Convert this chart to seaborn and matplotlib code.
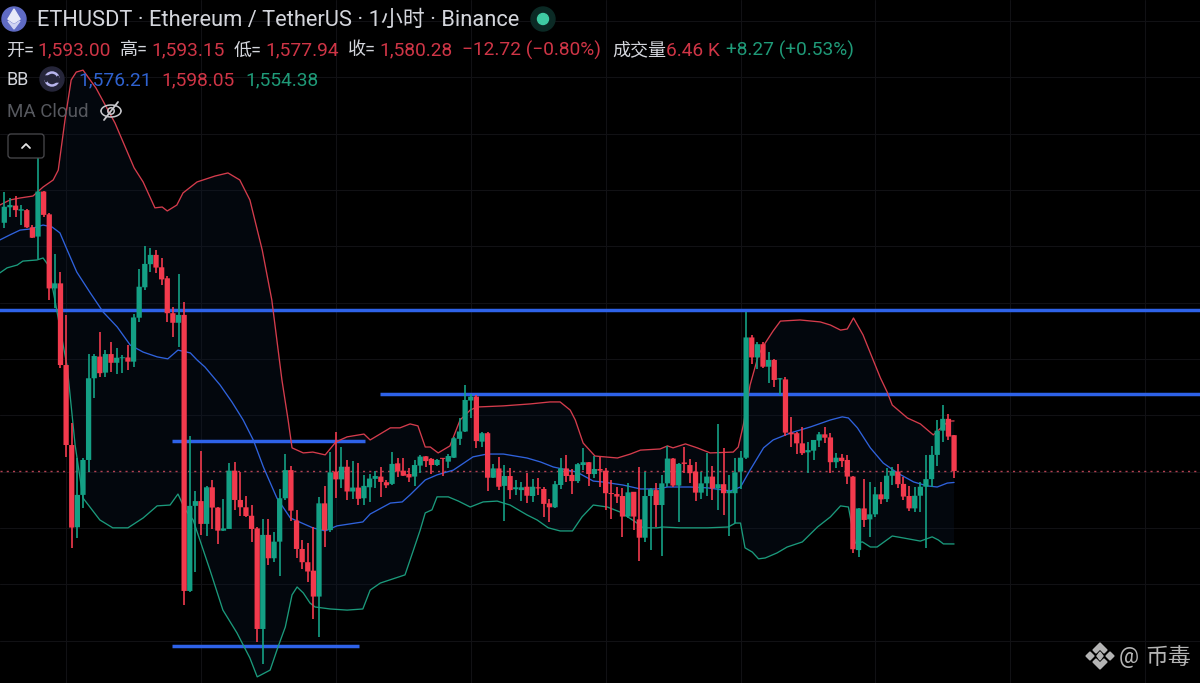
import numpy as np
import pandas as pd
import seaborn as sns
import matplotlib
matplotlib.use("Agg")
import matplotlib.pyplot as plt
from matplotlib.patches import Circle, FancyBboxPatch, Polygon

# ETHUSDT hourly candles
opens = [
    1668.4, 1673.9, 1674.5, 1672.7, 1672.9, 1666.8, 1663.5, 1679.5, 1671.4, 1645.1,
    1646.9, 1617.9, 1589.5, 1560.3, 1571.8, 1584.2, 1613.2, 1620.9, 1615.2, 1621.8,
    1618.7, 1620.3, 1620.6, 1619.1, 1634.7, 1645.5, 1653.7, 1657.0, 1652.6, 1648.7,
    1636.3, 1632.9, 1635.7, 1537.7, 1567.9, 1569.6, 1561.5, 1574.5, 1567.3, 1559.1,
    1559.7, 1580.4, 1570.0, 1567.4, 1564.4, 1559.9, 1524.2, 1557.6, 1549.3, 1555.2,
    1570.6, 1580.6, 1562.7, 1552.6, 1547.9, 1544.9, 1535.7, 1568.8, 1559.3, 1580.1,
    1577.3, 1581.8, 1573.0, 1574.4, 1570.6, 1574.5, 1577.5, 1578.3, 1576.3, 1575.7,
    1583.0, 1580.4, 1579.2, 1578.3, 1582.2, 1585.5, 1584.6, 1582.4, 1584.8, 1583.6,
    1585.0, 1591.7, 1594.3, 1605.3, 1606.7, 1590.7, 1593.7, 1577.9, 1581.2, 1575.0,
    1578.5, 1573.8, 1573.5, 1574.7, 1571.4, 1574.5, 1573.9, 1568.8, 1567.4, 1575.3,
    1581.2, 1578.9, 1576.7, 1582.4, 1583.4, 1579.2, 1581.0, 1580.4, 1572.4, 1572.1,
    1571.4, 1564.1, 1572.9, 1563.1, 1556.6, 1571.4, 1573.5, 1568.2, 1575.9, 1584.7,
    1575.1, 1583.3, 1582.4, 1580.1, 1572.6, 1575.9, 1578.3, 1574.1, 1575.6, 1572.4,
    1572.4, 1580.1, 1585.0, 1627.7, 1620.6, 1625.3, 1617.3, 1619.7, 1612.8, 1612.8,
    1593.9, 1593.7, 1590.1, 1586.9, 1587.5, 1591.1, 1593.3, 1592.2, 1583.4, 1585.0,
    1584.2, 1578.3, 1552.2, 1567.0, 1563.1, 1564.9, 1572.0, 1570.3, 1578.6, 1580.1,
    1575.7, 1571.4, 1567.0, 1571.5, 1574.7, 1577.4, 1586.0, 1594.6, 1598.8, 1593.00,
]
highs = [
    1679.5, 1677.1, 1677.9, 1674.7, 1673.2, 1667.6, 1693.5, 1679.8, 1672.0, 1657.3,
    1650.8, 1635.7, 1597.2, 1584.8, 1584.8, 1621.8, 1621.8, 1629.5, 1623.2, 1626.2,
    1623.8, 1621.5, 1625.0, 1636.0, 1651.9, 1660.2, 1659.3, 1658.7, 1655.8, 1649.5,
    1638.6, 1650.2, 1640.4, 1592.7, 1573.3, 1587.4, 1575.1, 1577.1, 1567.4, 1570.4,
    1583.0, 1583.6, 1580.1, 1571.4, 1568.2, 1560.5, 1563.1, 1563.1, 1558.8, 1573.8,
    1586.2, 1582.2, 1566.4, 1555.8, 1554.8, 1560.3, 1571.2, 1575.0, 1587.2, 1594.3,
    1588.7, 1584.2, 1583.8, 1583.0, 1578.9, 1579.1, 1580.4, 1581.6, 1577.1, 1586.9,
    1584.8, 1584.8, 1581.2, 1584.2, 1585.9, 1585.6, 1584.8, 1584.6, 1584.9, 1586.3,
    1592.5, 1599.0, 1610.8, 1607.6, 1607.3, 1594.3, 1594.3, 1582.8, 1585.1, 1582.4,
    1581.2, 1577.1, 1576.5, 1579.7, 1577.3, 1577.7, 1574.5, 1570.2, 1576.7, 1585.0,
    1586.0, 1580.9, 1583.0, 1588.3, 1583.6, 1585.6, 1585.4, 1581.2, 1577.1, 1574.7,
    1574.1, 1576.1, 1573.0, 1581.8, 1580.1, 1574.1, 1575.9, 1578.9, 1589.2, 1584.8,
    1583.0, 1588.9, 1584.4, 1583.6, 1580.1, 1586.8, 1582.2, 1596.9, 1588.3, 1578.9,
    1585.0, 1587.5, 1636.9, 1628.6, 1626.2, 1626.2, 1622.7, 1619.9, 1613.4, 1613.8,
    1599.3, 1594.3, 1595.8, 1590.7, 1591.4, 1594.3, 1596.0, 1593.9, 1586.6, 1586.3,
    1586.0, 1578.4, 1567.1, 1577.4, 1576.5, 1574.7, 1576.5, 1581.2, 1581.8, 1582.7,
    1578.3, 1575.0, 1574.7, 1576.5, 1586.0, 1589.3, 1598.4, 1603.6, 1600.5, 1593.15,
]
lows = [
    1666.4, 1670.6, 1670.6, 1667.6, 1666.4, 1662.9, 1655.4, 1670.6, 1641.0, 1638.0,
    1616.7, 1585.1, 1552.8, 1556.6, 1567.0, 1580.0, 1606.1, 1613.5, 1613.8, 1615.6,
    1614.7, 1615.0, 1616.1, 1617.1, 1633.3, 1644.5, 1651.1, 1650.7, 1646.3, 1633.3,
    1627.7, 1624.4, 1532.7, 1537.5, 1544.3, 1557.6, 1557.3, 1559.6, 1554.4, 1559.0,
    1559.6, 1566.4, 1564.3, 1563.8, 1555.2, 1519.7, 1511.8, 1546.9, 1548.1, 1543.1,
    1570.0, 1562.7, 1549.3, 1545.5, 1540.8, 1527.6, 1521.2, 1553.4, 1558.8, 1570.6,
    1574.1, 1570.0, 1570.2, 1568.2, 1568.2, 1569.4, 1574.1, 1571.2, 1574.1, 1575.3,
    1578.3, 1578.5, 1576.5, 1575.0, 1579.7, 1581.8, 1579.1, 1582.1, 1578.6, 1581.2,
    1584.8, 1589.5, 1594.0, 1599.0, 1588.6, 1588.9, 1573.3, 1577.7, 1573.5, 1562.7,
    1570.2, 1571.8, 1569.8, 1568.8, 1569.4, 1571.8, 1564.1, 1562.3, 1567.3, 1573.8,
    1576.5, 1572.1, 1576.1, 1580.6, 1575.0, 1577.7, 1574.7, 1566.4, 1563.3, 1568.8,
    1556.7, 1563.5, 1559.3, 1548.3, 1555.2, 1552.2, 1560.3, 1550.1, 1574.7, 1574.7,
    1562.3, 1579.5, 1575.9, 1569.6, 1570.2, 1571.4, 1570.0, 1566.4, 1564.7, 1557.2,
    1561.7, 1573.8, 1584.5, 1618.3, 1616.4, 1616.7, 1611.4, 1610.0, 1607.3, 1592.7,
    1588.9, 1586.3, 1586.0, 1579.7, 1584.2, 1588.9, 1590.1, 1579.5, 1581.2, 1581.8,
    1575.7, 1551.1, 1549.9, 1560.5, 1557.0, 1564.1, 1568.6, 1569.4, 1575.3, 1574.1,
    1570.0, 1566.2, 1565.9, 1565.9, 1552.8, 1574.5, 1582.1, 1590.7, 1591.3, 1577.94,
]
closes = [
    1674.1, 1674.7, 1672.9, 1673.2, 1666.8, 1663.1, 1679.5, 1671.2, 1645.1, 1646.9,
    1617.9, 1589.5, 1560.2, 1571.8, 1584.2, 1613.2, 1621.1, 1615.0, 1621.8, 1618.7,
    1620.5, 1620.6, 1619.1, 1634.8, 1645.7, 1653.8, 1657.0, 1652.5, 1648.3, 1636.3,
    1632.9, 1635.7, 1537.7, 1567.9, 1569.6, 1561.5, 1574.5, 1567.3, 1559.1, 1559.9,
    1580.4, 1570.0, 1567.4, 1564.3, 1559.7, 1524.2, 1557.6, 1549.3, 1555.2, 1570.6,
    1580.6, 1566.2, 1552.6, 1547.9, 1544.6, 1535.7, 1568.8, 1559.3, 1579.8, 1577.3,
    1581.8, 1573.0, 1574.4, 1570.4, 1575.0, 1577.6, 1578.5, 1576.4, 1575.2, 1582.8,
    1580.1, 1578.6, 1578.0, 1582.4, 1585.4, 1583.8, 1582.4, 1584.2, 1584.6, 1585.6,
    1591.9, 1594.3, 1605.5, 1606.7, 1590.9, 1593.7, 1577.9, 1581.2, 1574.7, 1578.5,
    1573.5, 1574.5, 1574.5, 1571.5, 1574.7, 1574.1, 1568.6, 1567.4, 1575.6, 1581.2,
    1578.5, 1576.7, 1582.7, 1583.4, 1579.2, 1581.0, 1580.4, 1572.4, 1572.1, 1571.2,
    1564.1, 1572.7, 1564.1, 1556.6, 1571.4, 1573.8, 1568.2, 1575.9, 1584.7, 1575.1,
    1582.8, 1582.8, 1579.5, 1572.6, 1575.9, 1578.3, 1574.1, 1575.6, 1572.4, 1573.2,
    1579.8, 1585.0, 1627.7, 1620.6, 1625.3, 1617.3, 1619.7, 1612.6, 1613.2, 1593.9,
    1593.3, 1590.1, 1586.6, 1587.7, 1591.3, 1593.3, 1592.1, 1583.4, 1585.0, 1583.8,
    1578.3, 1552.5, 1567.0, 1562.9, 1564.9, 1572.0, 1570.2, 1578.6, 1580.3, 1575.6,
    1571.2, 1567.0, 1571.5, 1574.7, 1577.4, 1586.0, 1594.6, 1598.8, 1592.5, 1580.28,
]

# Bollinger Band traces, each given as (bar position, price) pairs
upper_bar = [
    -0.8, 1.0, 2.8, 5.1, 6.9, 8.7, 9.6, 10.8, 11.9, 12.8, 14.0, 16.3, 19.7, 23.1, 24.7,
    26.8, 28.1, 29.0, 30.7, 31.8, 34.3, 37.5, 39.8, 41.9, 43.7, 45.9, 47.6, 49.4, 50.5,
    51.2, 53.2, 54.9, 57.1, 59.0, 61.0, 64.0, 65.1, 68.7, 70.4, 72.2, 73.6, 74.9, 75.8,
    77.2, 79.3, 81.1, 82.9, 84.1, 88.8, 93.6, 97.1, 98.9, 100.7, 101.6, 103.0, 105.1,
    109.1, 111.4, 113.2, 116.7, 118.0, 119.0, 121.2, 123.3, 125.6, 129.7, 130.6, 131.5,
    132.7, 134.2, 135.4, 136.8, 138.1, 141.6, 145.2, 147.0, 148.8, 150.0, 151.1, 152.8,
    154.6, 155.9, 157.1, 158.0, 160.7, 163.0, 165.3, 168.0, 169.0,
]
upper_price = [
    1674.7, 1676.5, 1677.2, 1677.9, 1681.1, 1683.6, 1687.1, 1704.9, 1719.1, 1721.9, 1722.6,
    1716.3, 1703.8, 1687.9, 1682.9, 1673.7, 1674.0, 1672.6, 1674.7, 1679.0, 1682.9, 1685.0,
    1686.1, 1683.6, 1676.5, 1658.7, 1641.0, 1612.6, 1598.4, 1588.5, 1586.7, 1587.0, 1586.0,
    1590.6, 1592.4, 1593.4, 1591.3, 1595.6, 1595.6, 1597.0, 1596.3, 1588.8, 1588.8, 1586.7,
    1589.2, 1598.4, 1601.9, 1603.0, 1603.4, 1604.1, 1604.8, 1604.8, 1601.9, 1598.4, 1590.2,
    1585.6, 1584.9, 1586.3, 1587.7, 1588.1, 1589.2, 1588.5, 1589.9, 1588.5, 1586.7, 1587.0,
    1588.8, 1596.6, 1610.8, 1621.5, 1625.7, 1630.0, 1633.5, 1633.9, 1633.2, 1632.1, 1630.3,
    1630.7, 1634.6, 1628.6, 1619.7, 1613.3, 1608.3, 1603.7, 1599.1, 1597.0, 1593.1, 1598.0,
    1598.05,
]
middle_bar = [
    -0.8, 1.0, 2.8, 4.6, 6.9, 8.5, 9.9, 11.2, 12.9, 15.3, 17.6, 20.1, 22.4, 24.7, 27.2,
    29.1, 30.9, 33.1, 34.3, 35.7, 38.4, 40.5, 42.5, 44.3, 46.1, 48.5, 50.9, 54.9, 57.1,
    59.2, 63.8, 65.1, 68.7, 70.8, 72.2, 74.9, 77.0, 79.9, 83.4, 85.9, 88.8, 93.0, 95.4,
    97.7, 101.9, 104.8, 106.4, 110.1, 113.2, 116.2, 118.0, 122.1, 125.1, 129.2, 131.0,
    132.7, 135.1, 136.8, 139.9, 143.4, 147.0, 149.1, 150.2, 151.8, 154.1, 156.4, 158.9,
    161.8, 164.2, 166.0, 167.8, 169.0,
]
middle_price = [
    1662.3, 1664.1, 1665.8, 1666.2, 1667.6, 1666.9, 1664.8, 1658.7, 1650.9, 1643.5, 1636.7,
    1631.4, 1625.0, 1622.5, 1620.8, 1620.1, 1623.2, 1622.2, 1619.7, 1617.2, 1610.8, 1604.8,
    1598.4, 1591.3, 1581.7, 1570.7, 1563.6, 1560.1, 1559.0, 1560.8, 1562.2, 1565.0, 1568.9,
    1569.3, 1571.8, 1577.1, 1578.9, 1580.6, 1585.3, 1586.3, 1586.3, 1584.9, 1583.5, 1581.7,
    1579.9, 1576.7, 1576.4, 1575.3, 1573.9, 1573.9, 1574.6, 1574.6, 1574.3, 1573.2, 1574.6,
    1580.6, 1588.5, 1591.3, 1593.8, 1595.9, 1598.4, 1599.5, 1599.1, 1595.6, 1588.5, 1583.1,
    1579.6, 1576.4, 1575.0, 1574.6, 1576.0, 1576.21,
]
lower_bar = [
    -0.8, 0.5, 2.3, 3.3, 5.8, 6.9, 7.8, 9.0, 10.3, 11.2, 12.6, 14.0, 17.0, 19.3, 22.0,
    24.7, 27.2, 29.5, 30.9, 32.2, 33.6, 34.8, 36.6, 38.9, 41.4, 43.7, 45.0, 47.3, 48.7,
    50.0, 51.2, 52.1, 53.2, 54.4, 55.3, 58.0, 61.0, 63.8, 65.1, 66.9, 71.3, 72.8, 74.0,
    74.9, 76.1, 77.0, 79.0, 80.8, 82.9, 85.2, 87.7, 90.0, 93.0, 94.8, 96.8, 98.9, 101.1,
    102.8, 104.8, 107.3, 109.6, 112.3, 113.7, 116.2, 117.1, 120.3, 125.1, 128.8, 130.1,
    131.0, 131.8, 133.1, 134.2, 135.4, 137.5, 139.3, 142.0, 144.7, 147.0, 148.8, 150.2,
    151.4, 152.7, 154.1, 155.3, 158.0, 160.0, 163.0, 165.1, 166.2, 167.1, 169.0,
]
lower_price = [
    1650.6, 1652.4, 1653.4, 1654.8, 1655.2, 1655.9, 1653.4, 1641.0, 1626.8, 1617.2, 1589.5,
    1570.7, 1562.9, 1560.1, 1560.1, 1563.6, 1567.9, 1568.2, 1572.1, 1566.5, 1562.9, 1555.8,
    1545.1, 1530.9, 1522.8, 1513.9, 1507.2, 1509.6, 1517.8, 1524.9, 1536.3, 1539.1, 1537.0,
    1533.4, 1532.0, 1531.3, 1530.9, 1531.3, 1538.0, 1540.5, 1543.4, 1552.2, 1559.3, 1565.4,
    1566.5, 1571.1, 1571.1, 1569.6, 1567.5, 1569.3, 1569.6, 1568.2, 1564.7, 1562.9, 1560.1,
    1559.0, 1559.0, 1564.0, 1568.2, 1567.5, 1565.7, 1562.2, 1560.1, 1560.1, 1560.4, 1560.1,
    1560.1, 1560.4, 1561.8, 1561.8, 1553.0, 1551.5, 1549.1, 1549.4, 1551.2, 1553.3, 1555.1,
    1560.4, 1564.0, 1567.9, 1567.5, 1554.7, 1555.1, 1553.3, 1553.3, 1557.2, 1556.5, 1555.4,
    1556.9, 1555.8, 1554.4, 1554.38,
]

# Support and resistance levels: price, first bar, last bar
level_price = [1637.3, 1607.6, 1590.9, 1518.3]
level_start = [-1.0, 66.9, 29.9, 29.9]
level_end = [213.0, 213.0, 64.2, 63.1]

last_close = closes[-1]
price_ticks = list(range(1520, 1741, 20))
day_bars = [11, 35, 59, 83, 107, 131, 155, 179, 203]

COL_UP = "#14a085"
COL_DOWN = "#f23a4d"
TXT = "#d4d6dc"
TXT_RED = "#cf3546"
TXT_GREEN = "#1f9a78"
TXT_BLUE = "#2f62d0"

sns.set_theme(style="dark", rc={"figure.facecolor": "#000000", "axes.facecolor": "#000000"})
plt.rcParams["font.family"] = ["Roboto", "Noto Sans CJK SC", "DejaVu Sans"]

candles = pd.DataFrame({"open": opens, "high": highs, "low": lows, "close": closes})
candles["bar"] = np.arange(len(candles))
candles["color"] = np.where(candles["close"] >= candles["open"], COL_UP, COL_DOWN)

fig = plt.figure(figsize=(12, 6.83), dpi=100, facecolor="#000000")
ax = fig.add_axes([0, 0, 1, 1])
ax.set_xlim(-0.765, 212.76)
ax.set_ylim(1505.02, 1747.49)
ax.set_xticks(day_bars)
ax.set_yticks(price_ticks)
ax.tick_params(length=0, labelleft=False, labelbottom=False)
ax.grid(True, color="#111114", linewidth=0.8)
ax.set_axisbelow(True)
for spine in ax.spines.values():
    spine.set_visible(False)

# Shaded envelope between the outer bands
ax.fill(
    np.r_[upper_bar, lower_bar[::-1]],
    np.r_[upper_price, lower_price[::-1]],
    color="#0b1a2e", alpha=0.3, linewidth=0, zorder=1,
)

# Manually drawn levels and the last-price marker
ax.hlines(level_price, level_start, level_end, color="#2e62e8", linewidth=2.5, zorder=2)
ax.axhline(last_close, color="#c9485a", linewidth=1.0, linestyle=(0, (1.5, 3)), alpha=0.9, zorder=2)

for bar, price, colour in [
    (upper_bar, upper_price, "#d43c4c"),
    (middle_bar, middle_price, "#2f62dc"),
    (lower_bar, lower_price, "#1b9a7c"),
]:
    sns.lineplot(x=bar, y=price, ax=ax, color=colour, linewidth=0.95,
                 sort=False, estimator=None, errorbar=None, zorder=3)
ax.set_xlim(-0.765, 212.76)
ax.set_ylim(1505.02, 1747.49)
ax.set_xlabel("")
ax.set_ylabel("")

# Candles: wicks first, then bodies with a minimum visible height
ax.vlines(candles["bar"], candles["low"], candles["high"], colors=candles["color"],
          linewidth=1.2, zorder=4)
body_low = candles[["open", "close"]].min(axis=1)
body_height = (candles["open"] - candles["close"]).abs().clip(lower=0.35)
body_bars = ax.bar(candles["bar"], body_height, bottom=body_low, width=0.94,
                   color=candles["color"], linewidth=0, zorder=5)
for body in body_bars:
    body.set_snap(False)

# Legend overlay, laid out in screen pixels
hud = fig.add_axes([0, 0, 1, 1], facecolor="none")
hud.set_xlim(0, 1200)
hud.set_ylim(683, 0)
hud.axis("off")


def label(x, y, text, color=TXT, size=12.6, **kwargs):
    hud.text(x, y, text, color=color, fontsize=size, va="center", ha="left", **kwargs)


# Instrument badge and title row
hud.add_patch(Circle((14, 19), 12, color="#5f6bc4", zorder=6))
hud.add_patch(Polygon([(14, 9), (20, 19), (14, 23), (8, 19)], color="#e8eaf8", zorder=7))
hud.add_patch(Polygon([(14, 25), (20, 21), (14, 29), (8, 21)], color="#cfd3f2", zorder=7))
label(37, 20, "ETHUSDT · Ethereum / TetherUS · 1小时 · Binance", size=15.75)
hud.add_patch(Circle((543, 19), 12, color="#0b2a25", zorder=6))
hud.add_patch(Circle((543, 19), 5.5, color="#3ecba3", zorder=7))

# OHLC and volume row
for x, name, value in [
    (6, "开=", "1,593.00"),
    (120, "高=", "1,593.15"),
    (234, "低=", "1,577.94"),
    (348, "收=", "1,580.28"),
]:
    label(x, 50.5, name, size=13)
    label(x + 31, 50.5, value, TXT_RED, size=13.8)
label(462, 50.5, "−12.72 (−0.80%)", TXT_RED, size=13.8)
label(612, 50.5, "成交量", size=13)
label(666, 50.5, "6.46 K", TXT_RED, size=13.8)
label(726, 50.5, "+8.27 (+0.53%)", TXT_GREEN, size=13.8)

# Bollinger row with its refresh badge
label(7, 80, "BB", size=13)
hud.add_patch(Circle((52, 79), 12, color="#26263a", zorder=6))
hud.add_patch(Circle((52, 79), 6.5, fill=False, edgecolor="#b9b6ee", linewidth=1.8, zorder=7))
hud.add_patch(Polygon([(43, 76), (50, 76), (46, 82)], color="#26263a", zorder=8))
hud.add_patch(Polygon([(54, 82), (61, 82), (58, 76)], color="#26263a", zorder=8))
label(78, 80, "1,576.21", TXT_BLUE, size=13.8)
label(161, 80, "1,598.05", TXT_RED, size=13.8)
label(245, 80, "1,554.38", TXT_GREEN, size=13.8)

# Hidden indicator row with a struck-through eye
label(7, 112, "MA Cloud", "#56585e", size=13.5)
eye_t = np.linspace(0, np.pi, 24)
hud.plot(111 + 10 * np.cos(eye_t), 111 - 6 * np.sin(eye_t), color="#c8c8cc", linewidth=1.1, zorder=7)
hud.plot(111 + 10 * np.cos(eye_t), 111 + 6 * np.sin(eye_t), color="#c8c8cc", linewidth=1.1, zorder=7)
hud.add_patch(Circle((111, 111), 3.2, fill=False, edgecolor="#c8c8cc", linewidth=1.1, zorder=7))
hud.plot([104, 118], [120, 102], color="#c8c8cc", linewidth=1.3, zorder=8)

# Collapse button
hud.add_patch(FancyBboxPatch((8, 134), 36, 24, boxstyle="round,pad=0,rounding_size=3",
                             facecolor="#000000", edgecolor="#4a4a4e", linewidth=0.9, zorder=6))
hud.plot([22, 26, 30], [148, 144, 148], color="#e4e4e4", linewidth=1.3, zorder=7)

# Publisher mark, lower right
WM = "#b4b4b4"
hud.add_patch(Polygon([(1100, 643), (1107, 650), (1104, 653), (1100, 649), (1096, 653), (1093, 650)], color=WM))
hud.add_patch(Polygon([(1100, 669), (1107, 662), (1104, 659), (1100, 663), (1096, 659), (1093, 662)], color=WM))
hud.add_patch(Polygon([(1100, 652), (1103, 656), (1100, 660), (1097, 656)], color=WM))
hud.add_patch(Polygon([(1090, 652), (1094, 656), (1090, 660), (1086, 656)], color=WM))
hud.add_patch(Polygon([(1110, 652), (1114, 656), (1110, 660), (1106, 656)], color=WM))
label(1119, 657, "@", WM, size=16)
label(1145, 657, "币毒", WM, size=16.5)

fig.savefig("out.png", dpi=100, facecolor="#000000")
